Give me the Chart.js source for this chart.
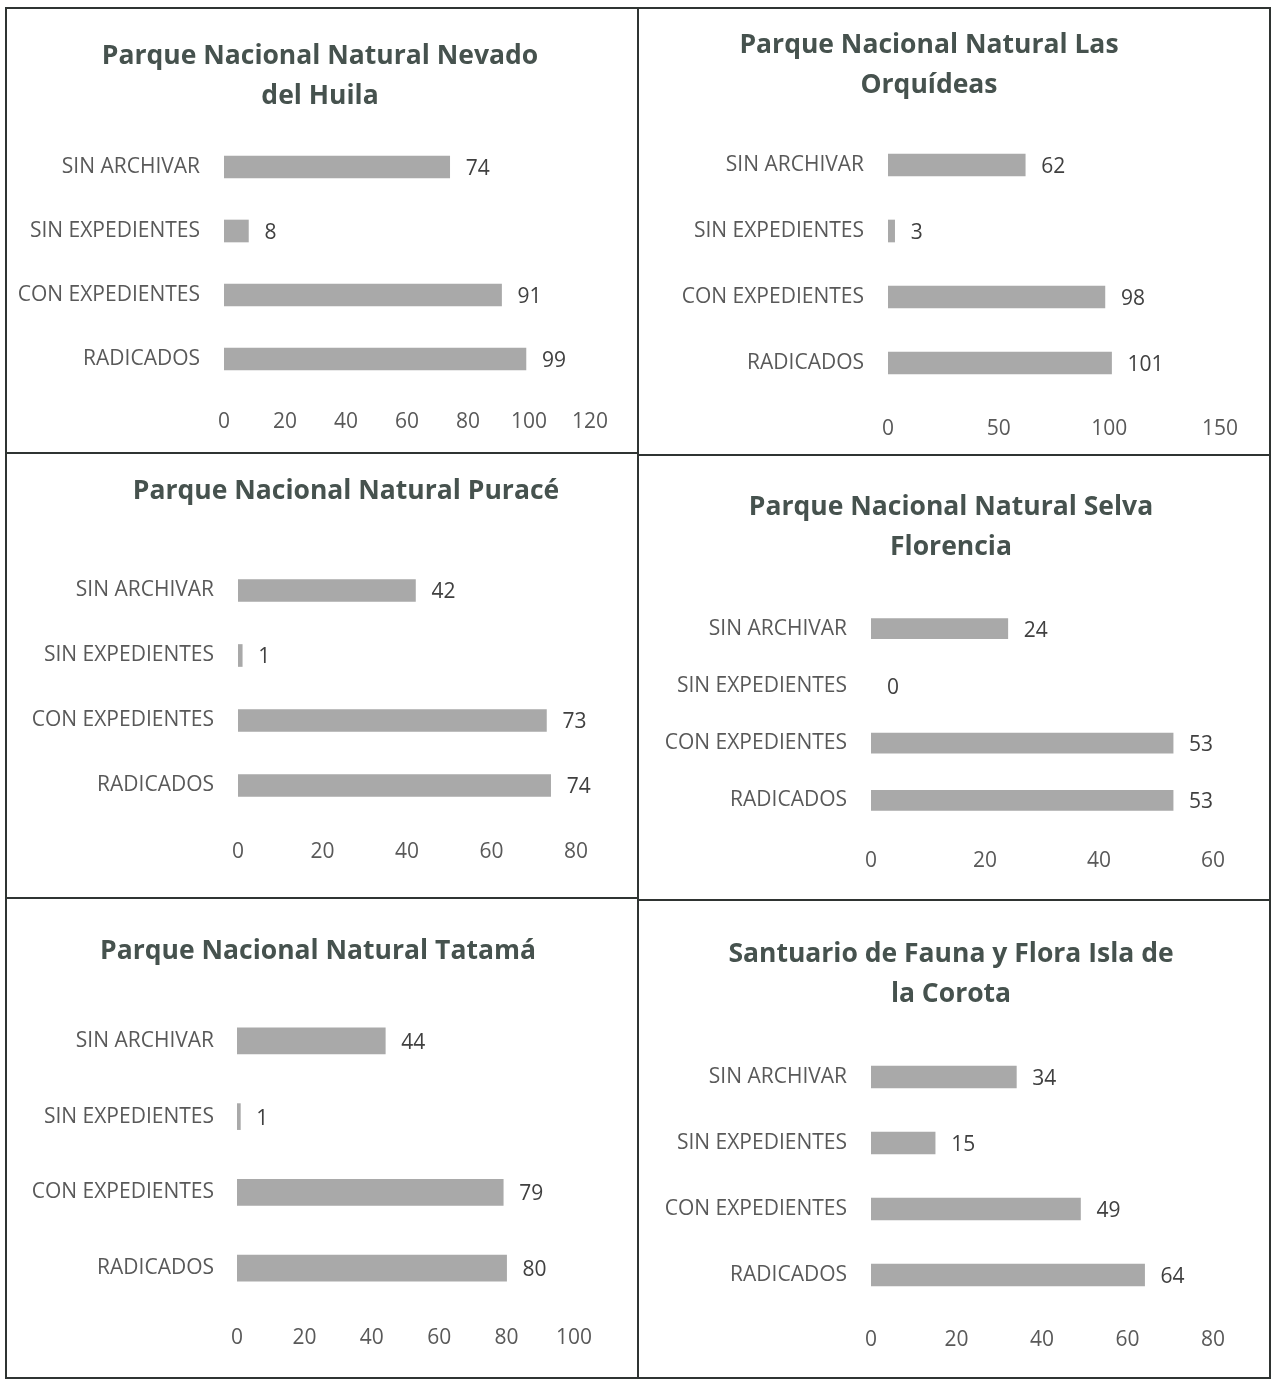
<!DOCTYPE html>
<html>
<head>
<meta charset="utf-8">
<script src="https://cdn.jsdelivr.net/npm/chart.js@4"></script>
<style>
  body { margin: 0; background: #fff; }
  #page { position: relative; width: 1272px; height: 1380px; overflow: hidden; }
  .rule { position: absolute; background: #2f3432; }
  canvas { position: absolute; }
</style>
</head>
<body>
<div id="page">
  <div class="rule" style="left:6px;top:7px;width:1265px;height:2px"></div>
  <div class="rule" style="left:6px;top:1377px;width:1265px;height:2px"></div>
  <div class="rule" style="left:5px;top:7px;width:2px;height:1372px"></div>
  <div class="rule" style="left:1269px;top:7px;width:2px;height:1372px"></div>
  <div class="rule" style="left:637px;top:7px;width:2px;height:1372px"></div>
  <div class="rule" style="left:6px;top:452px;width:632px;height:2px"></div>
  <div class="rule" style="left:638px;top:454px;width:632px;height:2px"></div>
  <div class="rule" style="left:6px;top:897px;width:632px;height:2px"></div>
  <div class="rule" style="left:638px;top:899px;width:632px;height:2px"></div>
</div>
<script>
// categories (top to bottom)
const categories = ["SIN ARCHIVAR", "SIN EXPEDIENTES", "CON EXPEDIENTES", "RADICADOS"];

// values per park, same order as categories
const huilaValues = [74, 8, 91, 99];
const orquideasValues = [62, 3, 98, 101];
const puraceValues = [42, 1, 73, 74];
const selvaFlorenciaValues = [24, 0, 53, 53];
const tatamaValues = [44, 1, 79, 80];
const corotaValues = [34, 15, 49, 64];

const chartTitles = [
  ["Parque Nacional Natural Nevado", "del Huila"],
  ["Parque Nacional Natural Las", "Orquídeas"],
  ["Parque Nacional Natural Puracé"],
  ["Parque Nacional Natural Selva", "Florencia"],
  ["Parque Nacional Natural Tatamá"],
  ["Santuario de Fauna y Flora Isla de", "la Corota"],
];

// x axis tick labels
const axisMax = [120, 150, 80, 60, 100, 80];
const axisStep = [20, 50, 20, 20, 20, 20];

const seriesList = [huilaValues, orquideasValues, puraceValues, selvaFlorenciaValues, tatamaValues, corotaValues];

// layout of each panel on the page (px)
const panels = [
  { left: 7, width: 630, top: 9, height: 443, titleX: 320, titleY: 56, x0: 224, x1: 590, labelRight: 200, barTop: 135, barBottom: 391, tickY: 422, thick: 22 },
  { left: 639, width: 630, top: 9, height: 445, titleX: 929, titleY: 45, x0: 888, x1: 1220, labelRight: 864, barTop: 132, barBottom: 396, tickY: 429, thick: 22 },
  { left: 7, width: 630, top: 454, height: 443, titleX: 346, titleY: 491, x0: 238, x1: 576, labelRight: 214, barTop: 558, barBottom: 818, tickY: 852, thick: 22 },
  { left: 639, width: 630, top: 456, height: 443, titleX: 951, titleY: 507, x0: 871, x1: 1213, labelRight: 847, barTop: 600, barBottom: 829, tickY: 861, thick: 20 },
  { left: 7, width: 630, top: 899, height: 478, titleX: 318, titleY: 951, x0: 237, x1: 574, labelRight: 214, barTop: 1003, barBottom: 1306, tickY: 1338, thick: 26 },
  { left: 639, width: 630, top: 901, height: 476, titleX: 951, titleY: 954, x0: 871, x1: 1213, labelRight: 847, barTop: 1044, barBottom: 1308, tickY: 1340, thick: 22 },
];

const FONT = "'Open Sans', 'Noto Sans', sans-serif";
const LABEL_SIZE = 21;
const VALUE_SIZE = 21;
const TITLE_SIZE = 26.5;
const TITLE_LINE = 40;
const BAR_COLOR = "#a9a9a9";

// draws the value at the end of each bar
const valueLabels = {
  id: "valueLabels",
  afterDatasetsDraw(chart) {
    const ctx = chart.ctx;
    const meta = chart.getDatasetMeta(0);
    const vals = chart.data.datasets[0].data;
    ctx.save();
    ctx.font = `${VALUE_SIZE}px ${FONT}`;
    ctx.fillStyle = "#404040";
    ctx.textAlign = "left";
    ctx.textBaseline = "middle";
    meta.data.forEach((bar, i) => {
      ctx.fillText(String(vals[i]), bar.x + 16, bar.y + 2);
    });
    ctx.restore();
  },
};

// title centred on a given x (the built-in one can only centre on the chart box)
const panelTitle = {
  id: "panelTitle",
  beforeDraw(chart, args, opts) {
    const ctx = chart.ctx;
    ctx.save();
    ctx.font = `700 ${TITLE_SIZE}px ${FONT}`;
    ctx.fillStyle = "#46524e";
    ctx.textAlign = "center";
    ctx.textBaseline = "middle";
    opts.lines.forEach((line, i) => {
      ctx.fillText(line, opts.x, opts.y + i * TITLE_LINE);
    });
    ctx.restore();
  },
};

const page = document.getElementById("page");

panels.forEach((p, idx) => {
  const canvas = document.createElement("canvas");
  canvas.width = p.width;
  canvas.height = p.height;
  canvas.style.left = p.left + "px";
  canvas.style.top = p.top + "px";
  page.appendChild(canvas);

  const plotLeft = p.x0 - p.left;
  const plotBottom = p.barBottom - p.top;
  const tickPad = p.tickY - p.barBottom - (VALUE_SIZE * 1.2) / 2;

  new Chart(canvas, {
    type: "bar",
    data: {
      labels: categories,
      datasets: [
        {
          data: seriesList[idx],
          backgroundColor: (c) => (c.raw === 0 ? "rgba(0,0,0,0)" : BAR_COLOR),
          barThickness: p.thick,
        },
      ],
    },
    options: {
      indexAxis: "y",
      responsive: false,
      animation: false,
      devicePixelRatio: 1,
      layout: {
        padding: { left: 0, top: p.barTop - p.top, bottom: 0, right: p.left + p.width - p.x1 },
      },
      plugins: {
        legend: { display: false },
        tooltip: { enabled: false },
        title: { display: false },
        panelTitle: { lines: chartTitles[idx], x: p.titleX - p.left, y: p.titleY - p.top },
      },
      scales: {
        x: {
          min: 0,
          max: axisMax[idx],
          border: { display: false },
          grid: { display: false, drawTicks: false },
          ticks: {
            stepSize: axisStep[idx],
            padding: tickPad,
            color: "#595959",
            font: { family: FONT, size: VALUE_SIZE },
            maxRotation: 0,
          },
          afterFit(scale) {
            scale.height = p.height - plotBottom;
          },
        },
        y: {
          border: { display: false },
          grid: { display: false, drawTicks: false },
          ticks: {
            padding: p.x0 - p.labelRight,
            color: "#595959",
            font: { family: FONT, size: LABEL_SIZE },
          },
          afterFit(scale) {
            scale.width = plotLeft;
          },
        },
      },
    },
    plugins: [valueLabels, panelTitle],
  });
});
</script>
</body>
</html>
